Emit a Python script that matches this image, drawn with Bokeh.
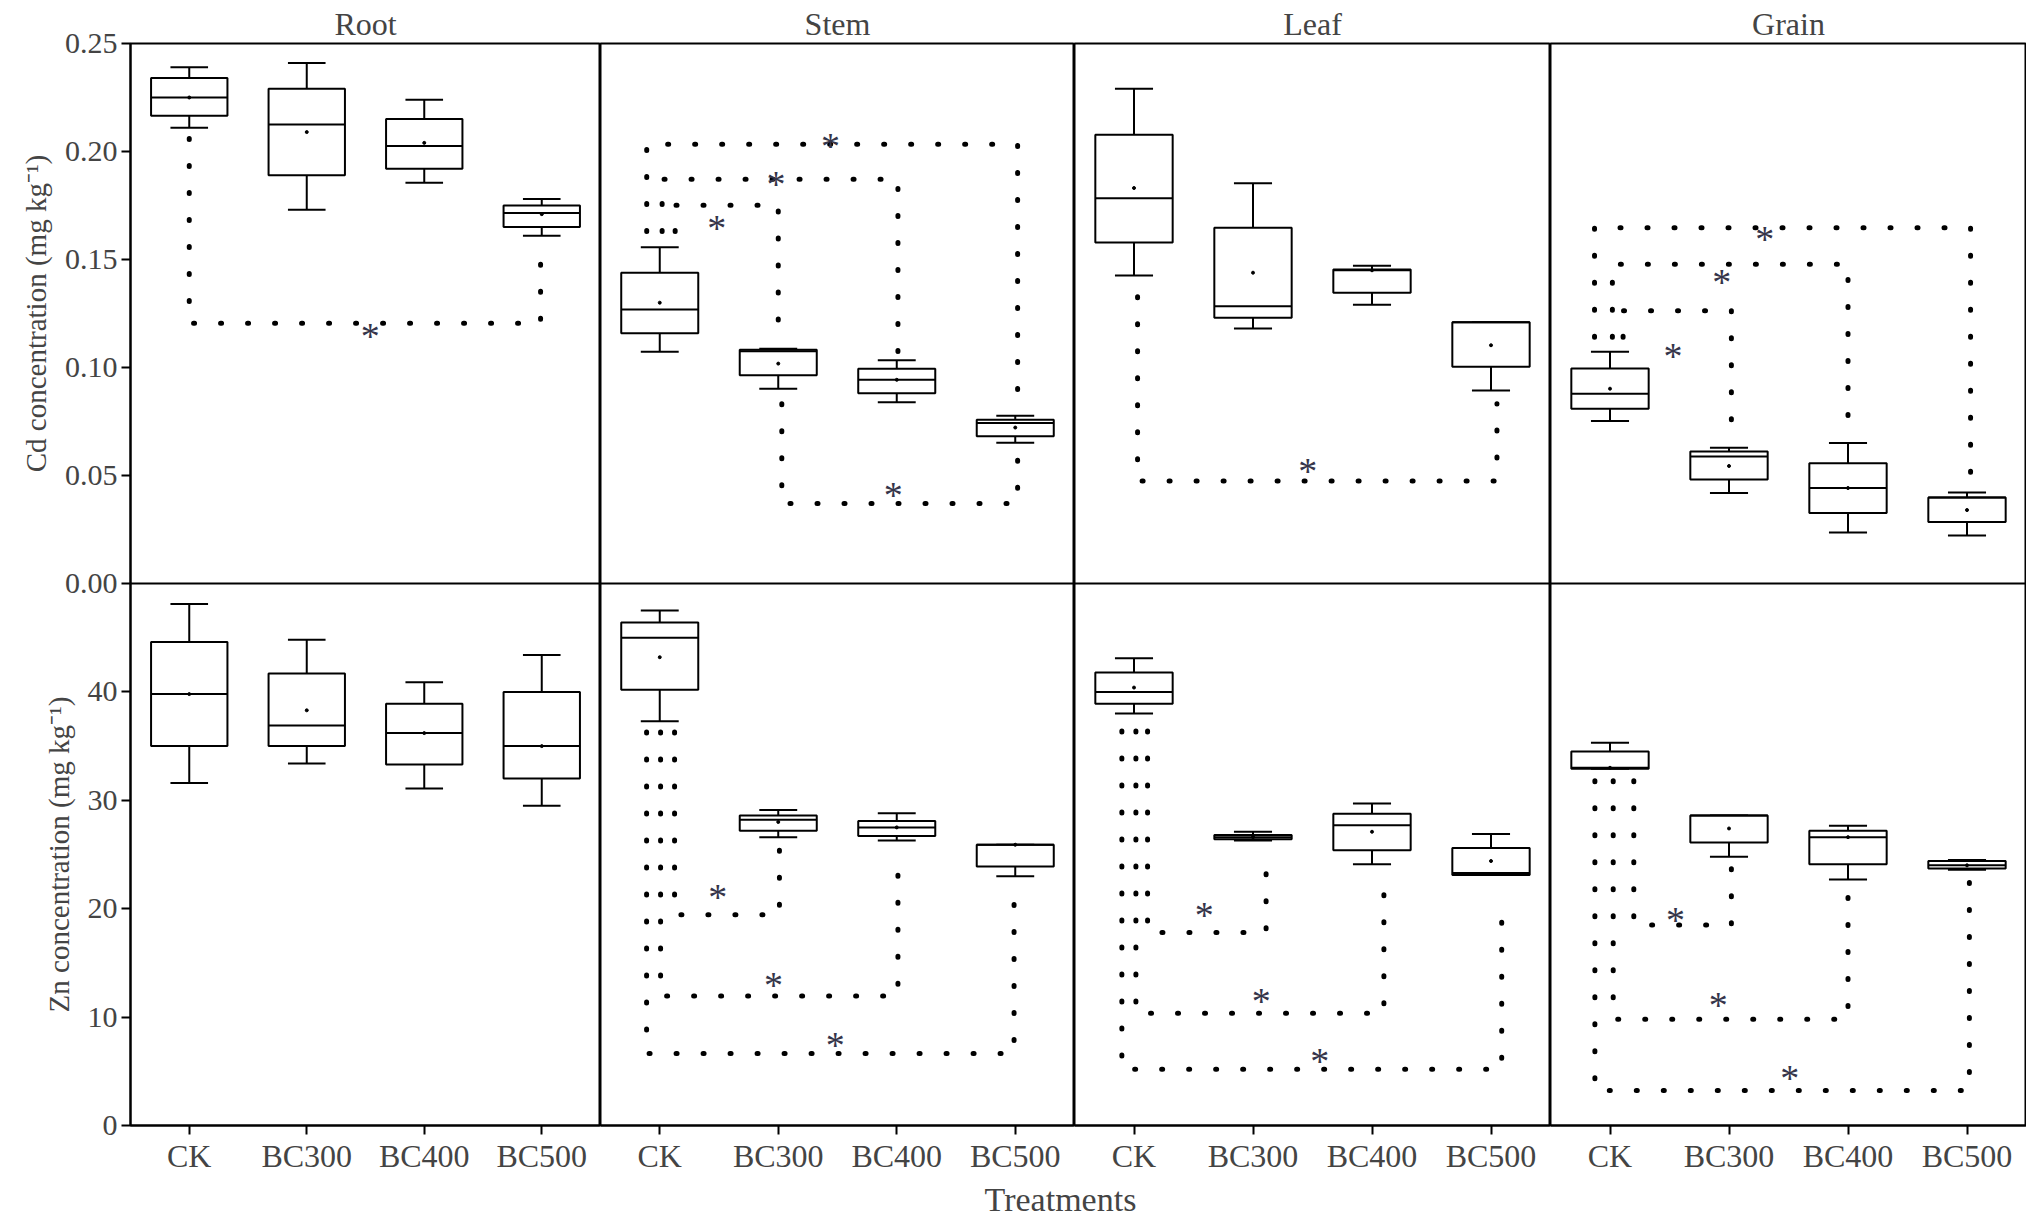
from bokeh.plotting import figure
from bokeh.layouts import column, row
from bokeh.models import FixedTicker, NumeralTickFormatter, Label
from bokeh.embed import file_html
from bokeh.resources import INLINE
from bokeh.core.properties import value

FONT = "Liberation Serif"

# ---------------- data ----------------
categories = ["CK", "BC300", "BC400", "BC500"]
organs = ["Root", "Stem", "Leaf", "Grain"]
cd_ticks = [0.0, 0.05, 0.10, 0.15, 0.20, 0.25]
zn_ticks = [0, 10, 20, 30, 40]

# Cd (mg kg-1) box statistics, one list per statistic, order = categories
cd_root = dict(high=[0.239, 0.241, 0.224, 0.178], q3=[0.234, 0.229, 0.215, 0.175],
               med=[0.225, 0.2125, 0.2025, 0.1715], q1=[0.2165, 0.189, 0.192, 0.165],
               low=[0.211, 0.173, 0.1855, 0.161], mean=[0.225, 0.209, 0.204, 0.171])
cd_stem = dict(high=[0.1557, 0.1087, 0.1034, 0.0777], q3=[0.1439, 0.1082, 0.0994, 0.0758],
               med=[0.1268, 0.1075, 0.0943, 0.0743], q1=[0.1158, 0.0964, 0.0881, 0.0682],
               low=[0.1073, 0.0902, 0.0839, 0.0652], mean=[0.130, 0.1018, 0.0943, 0.0722])
cd_leaf = dict(high=[0.229, 0.1853, 0.1471, 0.121], q3=[0.2077, 0.1647, 0.1454, 0.121],
               med=[0.1783, 0.1284, 0.145, 0.121], q1=[0.1579, 0.123, 0.1346, 0.1004],
               low=[0.1426, 0.118, 0.129, 0.0893], mean=[0.1831, 0.1439, 0.145, 0.1103])
cd_grain = dict(high=[0.1073, 0.0629, 0.065, 0.0421], q3=[0.0995, 0.0611, 0.0557, 0.0398],
                med=[0.0879, 0.0588, 0.0442, 0.0398], q1=[0.0809, 0.0481, 0.0326, 0.0285],
                low=[0.0752, 0.0419, 0.0236, 0.0222], mean=[0.0902, 0.0544, 0.0442, 0.034])

# Zn (mg kg-1) box statistics
zn_root = dict(high=[48.1, 44.8, 40.9, 43.4], q3=[44.6, 41.7, 38.9, 40.0],
               med=[39.8, 36.9, 36.2, 35.0], q1=[35.0, 35.0, 33.3, 32.0],
               low=[31.6, 33.4, 31.1, 29.5], mean=[39.8, 38.3, 36.2, 35.0])
zn_stem = dict(high=[47.5, 29.1, 28.8, 25.9], q3=[46.4, 28.6, 28.1, 25.9],
               med=[45.0, 28.2, 27.5, 25.9], q1=[40.2, 27.2, 26.7, 23.9],
               low=[37.3, 26.6, 26.3, 23.0], mean=[43.2, 28.0, 27.5, 25.9])
zn_leaf = dict(high=[43.1, 27.1, 29.7, 26.9], q3=[41.8, 26.8, 28.75, 25.6],
               med=[40.0, 26.6, 27.7, 23.3], q1=[38.9, 26.4, 25.4, 23.1],
               low=[38.0, 26.3, 24.1, 23.1], mean=[40.4, 26.6, 27.1, 24.4])
zn_grain = dict(high=[35.3, 28.6, 27.65, 24.5], q3=[34.5, 28.6, 27.2, 24.4],
                med=[33.0, 28.6, 26.6, 24.0], q1=[32.9, 26.1, 24.1, 23.7],
                low=[32.9, 24.8, 22.7, 23.6], mean=[33.0, 27.4, 26.6, 24.0])

# significance brackets: left x / left start y, level y, right x / right end y, star position
cd_root_sig = dict(xl=[0.50], yl=[0.206], lvl=[0.1205], xr=[3.49], yr=[0.157],
                   sx=[2.04], sy=[0.118])
cd_stem_sig = dict(xl=[0.63, 0.52, 0.39, 1.53], yl=[0.163, 0.163, 0.163, 0.0832],
                   lvl=[0.1751, 0.1871, 0.2033, 0.0370], xr=[1.50, 2.51, 3.52, 3.52],
                   yr=[0.1136, 0.106, 0.080, 0.061],
                   sx=[0.98, 1.48, 1.94, 2.47], sy=[0.168, 0.188, 0.206, 0.044])
cd_leaf_sig = dict(xl=[0.53], yl=[0.1328], lvl=[0.0474], xr=[3.55], yr=[0.0832],
                   sx=[1.96], sy=[0.0553])
cd_grain_sig = dict(xl=[0.61, 0.52, 0.37], yl=[0.114, 0.114, 0.114],
                    lvl=[0.1263, 0.1478, 0.1647], xr=[1.52, 2.50, 3.53],
                    yr=[0.0664, 0.0673, 0.0421],
                    sx=[1.03, 1.44, 1.80], sy=[0.1087, 0.143, 0.1628])
zn_root_sig = dict(xl=[], yl=[], lvl=[], xr=[], yr=[], sx=[], sy=[])
zn_stem_sig = dict(xl=[0.625, 0.507, 0.389], yl=[36.3, 36.3, 36.3], lvl=[19.45, 11.95, 6.64],
                   xr=[1.51, 2.51, 3.49], yr=[25.8, 25.0, 22.5],
                   sx=[0.99, 1.46, 1.98], sy=[21.7, 13.6, 8.1])
zn_leaf_sig = dict(xl=[0.614, 0.516, 0.398], yl=[36.4, 36.4, 36.4], lvl=[17.8, 10.35, 5.2],
                   xr=[1.61, 2.60, 3.59], yr=[24.2, 23.4, 20.9],
                   sx=[1.09, 1.57, 2.06], sy=[20.1, 12.1, 6.6])
zn_grain_sig = dict(xl=[0.70, 0.527, 0.373], yl=[31.8, 31.8, 31.8], lvl=[18.5, 9.8, 3.24],
                    xr=[1.52, 2.50, 3.52], yr=[24.3, 21.7, 22.9],
                    sx=[1.05, 1.41, 2.01], sy=[19.6, 11.8, 5.0])

cd_stats = [cd_root, cd_stem, cd_leaf, cd_grain]
zn_stats = [zn_root, zn_stem, zn_leaf, zn_grain]
cd_sigs = [cd_root_sig, cd_stem_sig, cd_leaf_sig, cd_grain_sig]
zn_sigs = [zn_root_sig, zn_stem_sig, zn_leaf_sig, zn_grain_sig]

# ---------------- layout / style ----------------
col_widths = [470, 474, 476, 476]
LEFT = 130
TOP = 43
OVERLAP = 18
BOX_HALF = 0.325
CAP_HALF = 0.16
positions = [i + 0.5 for i in range(len(categories))]


def panel(stats, sig, ci, top):
    p = figure(frame_width=col_widths[ci], frame_height=540 if top else 542,
               x_range=(0, 4), y_range=(0, 0.25) if top else (0, 50),
               output_backend="svg", toolbar_location=None,
               x_axis_location=None if top else "below",
               y_axis_location="left" if ci == 0 else None,
               min_border_left=LEFT if ci == 0 else 0, min_border_right=0,
               min_border_top=TOP if top else 0,
               min_border_bottom=OVERLAP if top else 0,
               background_fill_color="white", border_fill_color="white")
    if not top:
        p.border_fill_alpha = 0
    p.grid.visible = False
    p.outline_line_color = "black"
    p.outline_line_width = 2
    if top:
        p.title.text = organs[ci]
        p.title.align = "center"
        p.title.text_font = FONT
        p.title.text_font_size = "32px"
        p.title.text_font_style = "normal"
        p.title.standoff = 4
    else:
        ax = p.xaxis[0]
        ax.ticker = FixedTicker(ticks=positions)
        ax.major_label_overrides = {pos: c for pos, c in zip(positions, categories)}
        ax.major_label_text_font = FONT
        ax.major_label_text_font_size = "32px"
        ax.major_label_standoff = 3
        ax.major_tick_out = 9
        ax.major_tick_in = 0
        ax.major_tick_line_width = 2
        ax.minor_tick_line_color = None
        ax.axis_line_width = 2
    if ci == 0:
        ay = p.yaxis[0]
        if top:
            ay.ticker = FixedTicker(ticks=cd_ticks)
            ay.formatter = NumeralTickFormatter(format="0.00")
            ay.axis_label = "Cd concentration (mg kg\u207b\u00b9)"
        else:
            ay.ticker = FixedTicker(ticks=zn_ticks)
            ay.axis_label = "Zn concentration (mg kg\u207b\u00b9)"
        ay.major_label_text_font = FONT
        ay.major_label_text_font_size = "30px"
        ay.major_label_standoff = 4
        ay.major_tick_out = 9
        ay.major_tick_in = 0
        ay.major_tick_line_width = 2
        ay.minor_tick_line_color = None
        ay.axis_line_width = 2
        ay.axis_label_text_font = FONT
        ay.axis_label_text_font_size = "29px"
        ay.axis_label_text_font_style = "normal"
        ay.axis_label_standoff = 10

    # significance brackets (dotted)
    xs = [[a, a, b, b] for a, b in zip(sig["xl"], sig["xr"])]
    ys = [[y0, lv, lv, y1] for y0, lv, y1 in zip(sig["yl"], sig["lvl"], sig["yr"])]
    if xs:
        p.multi_line(xs, ys, line_color="black", line_width=5,
                     line_dash=value("1 26"), line_cap="round")
        p.text(sig["sx"], sig["sy"], text=["*"] * len(sig["sx"]),
               text_font=value(FONT), text_font_size="38px", text_color="#35354a",
               text_align="center", text_baseline="middle", y_offset=7)

    # whiskers
    p.segment(positions, stats["q3"], positions, stats["high"], line_color="black", line_width=2)
    p.segment(positions, stats["q1"], positions, stats["low"], line_color="black", line_width=2)
    p.segment([x - CAP_HALF for x in positions], stats["high"],
              [x + CAP_HALF for x in positions], stats["high"], line_color="black", line_width=2)
    p.segment([x - CAP_HALF for x in positions], stats["low"],
              [x + CAP_HALF for x in positions], stats["low"], line_color="black", line_width=2)
    # boxes
    p.quad(left=[x - BOX_HALF for x in positions], right=[x + BOX_HALF for x in positions],
           bottom=stats["q1"], top=stats["q3"], fill_color="white",
           line_color="black", line_width=2)
    p.segment([x - BOX_HALF for x in positions], stats["med"],
              [x + BOX_HALF for x in positions], stats["med"], line_color="black", line_width=2)
    p.scatter(positions, stats["mean"], size=3, color="black")
    return p


top_row = row(*[panel(cd_stats[i], cd_sigs[i], i, True) for i in range(4)])
bot_row = row(*[panel(zn_stats[i], zn_sigs[i], i, False) for i in range(4)],
              styles={"margin-top": f"-{OVERLAP}px"})

tp = figure(frame_width=sum(col_widths), frame_height=46, x_range=(0, 1), y_range=(0, 1),
            output_backend="svg", toolbar_location=None, x_axis_location=None,
            y_axis_location=None, min_border_left=LEFT, min_border_right=0,
            min_border_top=0, min_border_bottom=0, outline_line_color=None)
tp.grid.visible = False
tp.add_layout(Label(x=0.4905, y=0.5, text="Treatments", text_font=FONT,
                    text_font_size="34px", text_align="center", text_baseline="middle"))

layout = column(top_row, bot_row, tp)
open("out.html", "w").write(file_html(layout, INLINE))
